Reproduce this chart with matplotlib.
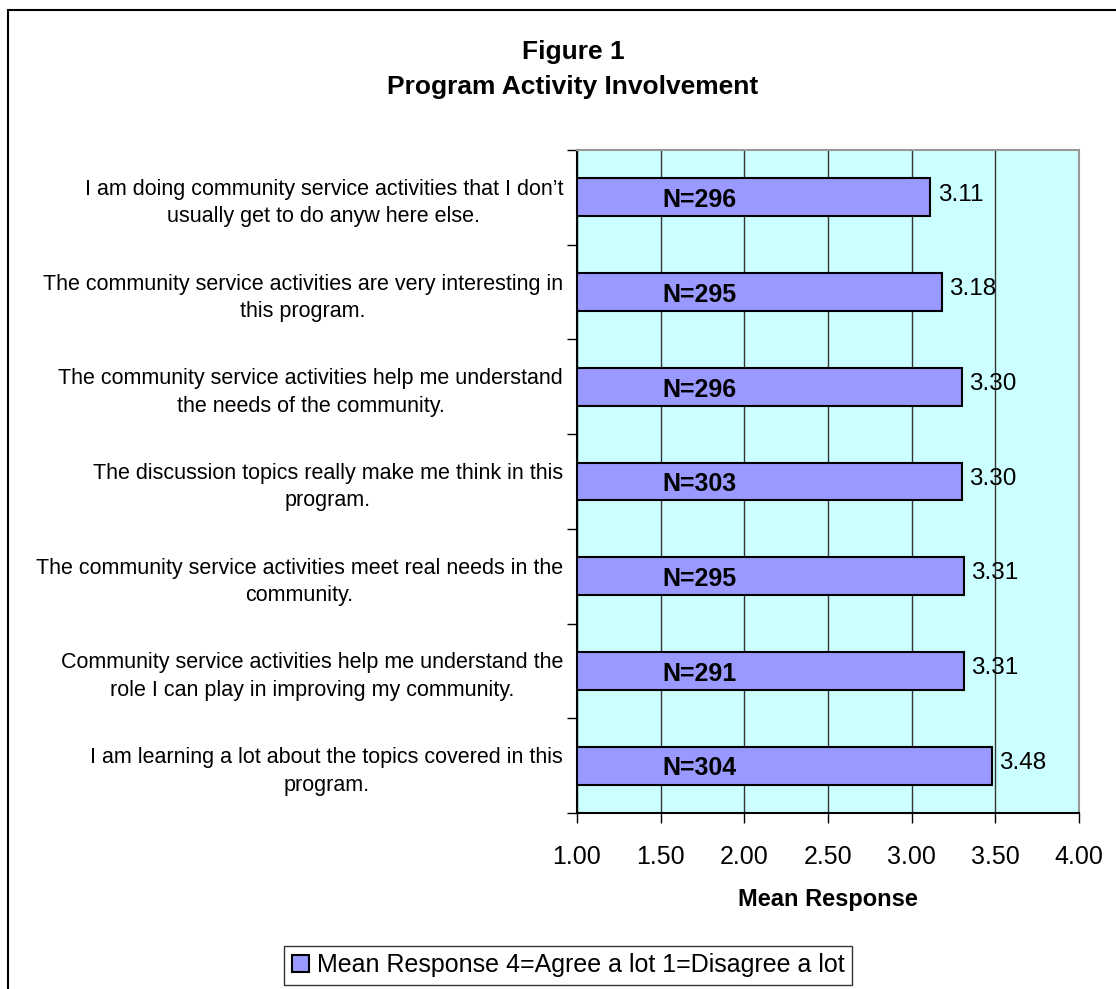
import matplotlib
matplotlib.use("Agg")
import matplotlib.pyplot as plt
from matplotlib.patches import Rectangle, Patch
import numpy as np

plt.rcParams['font.family'] = ['Liberation Sans', 'DejaVu Sans']

items = [
    "I am doing community service activities that I don\u2019t\nusually get to do anyw here else.",
    "The community service activities are very interesting in\nthis program.",
    "The community service activities help me understand\nthe needs of the community.",
    "The discussion topics really make me think in this\nprogram.",
    "The community service activities meet real needs in the\ncommunity.",
    "Community service activities help me understand the\nrole I can play in improving my community.",
    "I am learning a lot about the topics covered in this\nprogram.",
]
means = [3.11, 3.18, 3.30, 3.30, 3.31, 3.31, 3.48]
n_counts = [296, 295, 296, 303, 295, 291, 304]
x_ticks = [1.00, 1.50, 2.00, 2.50, 3.00, 3.50, 4.00]

fig = plt.figure(figsize=(11.16, 9.89), dpi=100)
# outer frame of the chart object
fig.patches.append(Rectangle((8/1116, -0.1), 1.2, 1 - 10/989 + 0.1, transform=fig.transFigure,
                             fill=False, edgecolor="black", linewidth=1.5))

ax = fig.add_axes([577/1116, 176/989, 502/1116, 663/989])
ax.set_facecolor("#CCFFFF")

y = np.arange(len(items))
ax.barh(y, np.array(means) - 1, left=1, height=0.4, color="#9999FF", edgecolor="black",
        linewidth=1.5, zorder=3)
ax.set_ylim(len(items) - 0.5, -0.5)
ax.set_xlim(1, 4)

for yi, m, n in zip(y, means, n_counts):
    ax.text(m + 0.045, yi - 0.03, "%.2f" % m, fontsize=17.5, va="center", ha="left", zorder=4)
    ax.text(1.73, yi + 0.03, "N=%d" % n, fontsize=18, fontweight="bold", va="center", ha="center", zorder=4)

ax.set_xticks(x_ticks)
ax.set_xticklabels(["%.2f" % v for v in x_ticks], fontsize=18)
ax.tick_params(axis="x", direction="out", length=7, width=1, pad=16)
ax.set_yticks(y)
ax.set_yticklabels(items, fontsize=15.5, ha="right", multialignment="center", linespacing=1.4)
ax.tick_params(axis="y", which="major", length=0, pad=10)
ax.set_yticks(np.arange(len(items) + 1) - 0.5, minor=True)
ax.tick_params(axis="y", which="minor", direction="out", length=7, width=1)
ax.grid(axis="x", color="#333333", linewidth=1, zorder=1)
ax.set_axisbelow(True)

ax.spines["left"].set_color("black")
ax.spines["bottom"].set_color("black")
ax.spines["top"].set_color("#999999")
ax.spines["right"].set_color("#999999")
for s in ax.spines.values():
    s.set_linewidth(1.5)

ax.set_xlabel("Mean Response", fontsize=17, fontweight="bold", labelpad=14)

fig.text(573/1116, 1 - 52/989, "Figure 1", fontsize=19, fontweight="bold", ha="center", va="center")
fig.text(573/1116, 1 - 87/989, "Program Activity Involvement", fontsize=19, fontweight="bold",
         ha="center", va="center")

leg = fig.legend(handles=[Patch(facecolor="#9999FF", edgecolor="black", linewidth=1.5,
                                label="Mean Response 4=Agree a lot 1=Disagree a lot")],
                 loc="center", bbox_to_anchor=(568/1116, 1 - 965/989), fontsize=18,
                 frameon=True, fancybox=False, edgecolor="black", handlelength=0.7,
                 handleheight=0.7, handletextpad=0.3, borderpad=0.3)
leg.get_frame().set_linewidth(1)

fig.savefig("out.png", dpi=100)
